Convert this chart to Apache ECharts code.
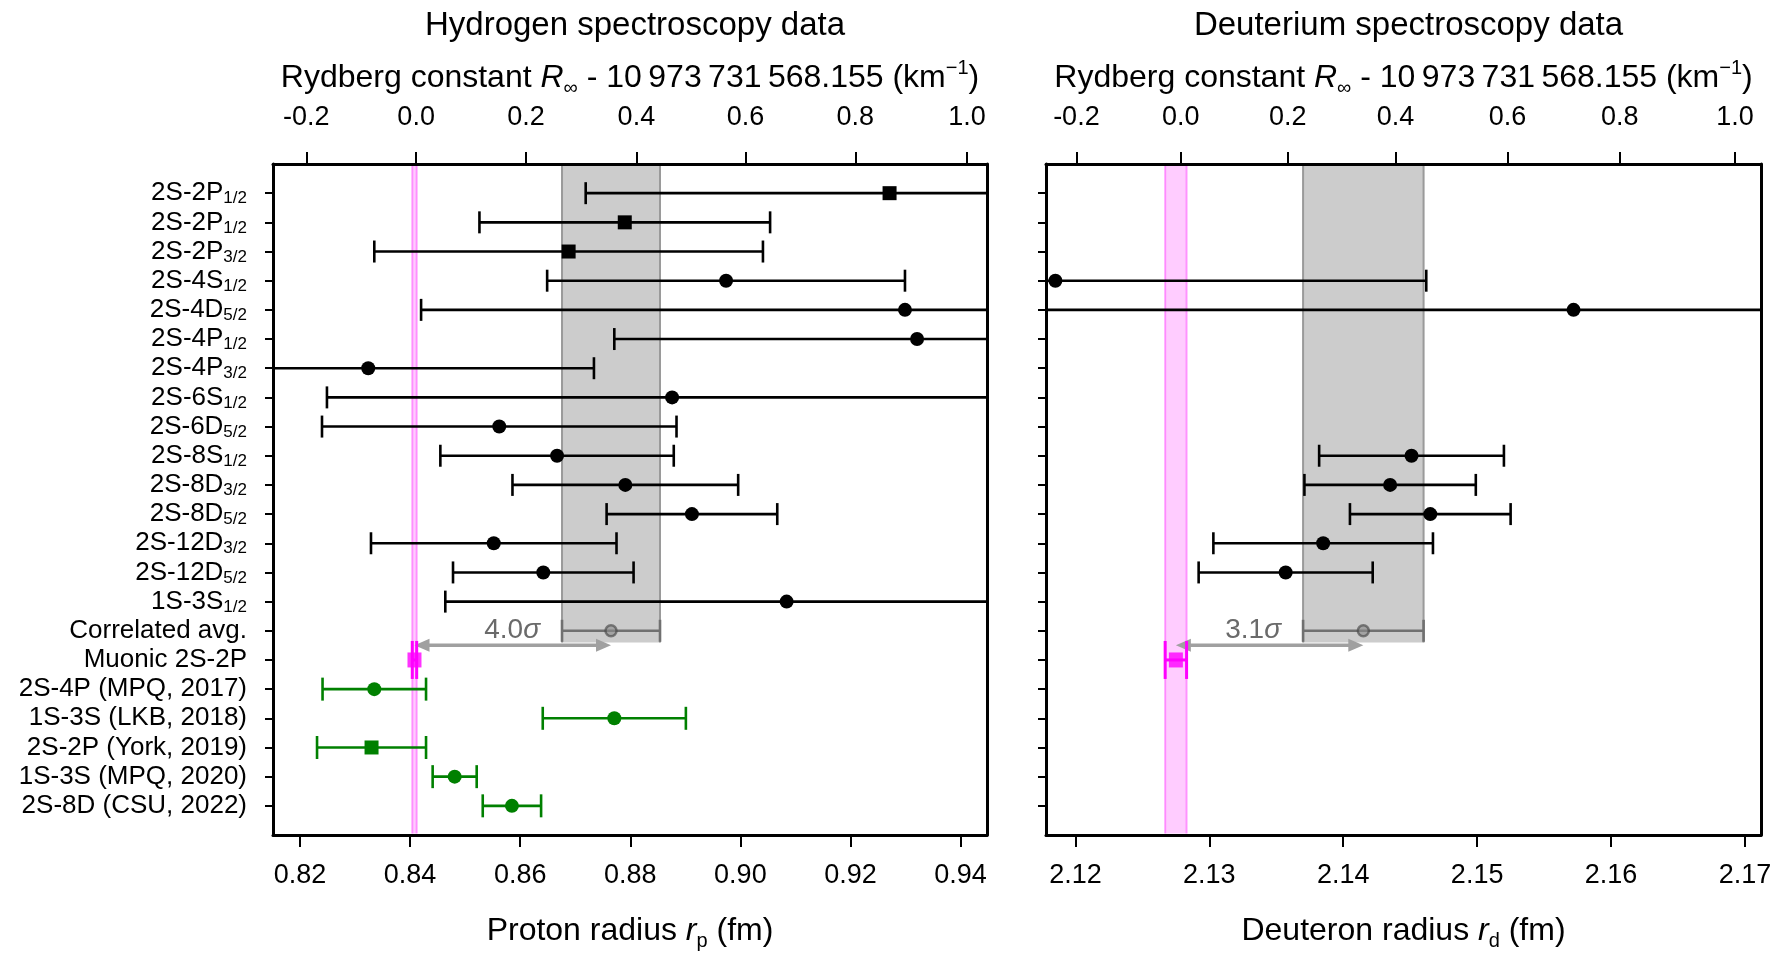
<!DOCTYPE html>
<html>
<head>
<meta charset="utf-8">
<script src="https://cdn.jsdelivr.net/npm/echarts@6/dist/echarts.min.js"></script>
<style>
  html, body { margin: 0; padding: 0; background: #fff; }
  #chart { width: 1779px; height: 956px; }
</style>
</head>
<body>
<div id="chart"></div>
<script>
// ---- Row labels (shared by both panels); "_" marks the start of a subscript ----
const transitionLabels = ['2S-2P_1/2', '2S-2P_1/2', '2S-2P_3/2', '2S-4S_1/2', '2S-4D_5/2', '2S-4P_1/2',
  '2S-4P_3/2', '2S-6S_1/2', '2S-6D_5/2', '2S-8S_1/2', '2S-8D_3/2', '2S-8D_5/2', '2S-12D_3/2',
  '2S-12D_5/2', '1S-3S_1/2'];
const summaryLabels = ['Correlated avg.', 'Muonic 2S-2P'];
const recentLabels = ['2S-4P (MPQ, 2017)', '1S-3S (LKB, 2018)', '2S-2P (York, 2019)',
  '1S-3S (MPQ, 2020)', '2S-8D (CSU, 2022)'];

// ---- Hydrogen: radius and 1-sigma uncertainty per transition (fm) ----
const transitionSymbols = ['rect', 'rect', 'rect', 'circle', 'circle', 'circle', 'circle', 'circle',
  'circle', 'circle', 'circle', 'circle', 'circle', 'circle', 'circle'];
const hydrogenRadius = [0.9271, 0.8790, 0.8688, 0.8974, 0.9299, 0.9321, 0.8324, 0.8876, 0.8562,
  0.8667, 0.8791, 0.8912, 0.8552, 0.8642, 0.9084];
const hydrogenSigma = [0.0552, 0.0264, 0.0353, 0.0325, 0.0879, 0.0550, 0.0410, 0.0627, 0.0322,
  0.0212, 0.0205, 0.0155, 0.0223, 0.0164, 0.0620];

// ---- Deuterium: same rows, only some transitions measured ----
const deuteriumRadius = [null, null, null, 2.1185, 2.1572, null, null, null, null,
  2.1451, 2.1435, 2.1465, 2.1385, 2.1357, null];
const deuteriumSigma = [null, null, null, 0.0277, 0.0600, null, null, null, null,
  0.0069, 0.0064, 0.0060, 0.0082, 0.0065, null];

// ---- Averages and muonic values: [radius, sigma] ----
const hydrogenAverage = [0.8765, 0.0089];
const deuteriumAverage = [2.1415, 0.0045];
const muonicHydrogen = [0.8408, 0.0004];
const muonicDeuterium = [2.1275, 0.0008];
const averageTension = ['4.0', '3.1'];   // discrepancy in units of sigma

// ---- Recent hydrogen measurements ----
const recentRadius = [0.8335, 0.8771, 0.8330, 0.8481, 0.8585];
const recentSigma = [0.0094, 0.0130, 0.0099, 0.0040, 0.0053];
const recentSymbols = ['circle', 'circle', 'rect', 'circle', 'circle'];

// ---- Tick labels ----
const protonTicks = [0.82, 0.84, 0.86, 0.88, 0.90, 0.92, 0.94];
const deuteronTicks = [2.12, 2.13, 2.14, 2.15, 2.16, 2.17];
const rydbergTicks = [-0.2, 0.0, 0.2, 0.4, 0.6, 0.8, 1.0];
// radius at which each Rydberg-constant tick falls
const protonAtRydbergTick = [0.82116, 0.84110, 0.86104, 0.88111, 0.90092, 0.92088, 0.94116];
const deuteronAtRydbergTick = [2.12007, 2.12787, 2.13585, 2.14391, 2.15226, 2.16065, 2.16926];

// ---------------------------------------------------------------------------
const FONT = 'Liberation Sans';
const GRID_TOP = 164, GRID_HEIGHT = 678;
const ROW_MIN = -1, ROW_MAX = 22;
const AVG_ROW = transitionLabels.length;        // 15
const MUON_ROW = AVG_ROW + 1;                    // 16
const RECENT_ROW0 = MUON_ROW + 1;                // 17
const rowCount = RECENT_ROW0 + recentLabels.length;
const rowTicks = Array.from({ length: rowCount }, (_, i) => i);

const GREEN = '#008000', MAGENTA = '#ff00ff', AVG_GRAY = '#707070';

const panels = [
  { title: 'Hydrogen spectroscopy data', left: 273, width: 714, min: 0.8151, max: 0.9448,
    ticks: protonTicks, topTicks: protonAtRydbergTick, sym: 'p', what: 'Proton',
    avg: hydrogenAverage, muon: muonicHydrogen, tension: averageTension[0] },
  { title: 'Deuterium spectroscopy data', left: 1046, width: 715, min: 2.1178, max: 2.1712,
    ticks: deuteronTicks, topTicks: deuteronAtRydbergTick, sym: 'd', what: 'Deuteron',
    avg: deuteriumAverage, muon: muonicDeuterium, tension: averageTension[1] }
];

const labelRich = {
  m: { fontFamily: FONT, fontSize: 26, color: '#000', lineHeight: 28, verticalAlign: 'middle' },
  s: { fontFamily: FONT, fontSize: 17, color: '#000', lineHeight: 12, verticalAlign: 'bottom' }
};
const nameRich = {
  t: { fontFamily: FONT, fontSize: 32, color: '#000', lineHeight: 40, verticalAlign: 'middle' },
  i: { fontFamily: FONT, fontSize: 32, color: '#000', fontStyle: 'italic', lineHeight: 40, verticalAlign: 'middle' },
  sub: { fontFamily: FONT, fontSize: 20, color: '#000', lineHeight: 13, verticalAlign: 'bottom' },
  sup: { fontFamily: FONT, fontSize: 20, color: '#000', lineHeight: 13, verticalAlign: 'top' }
};

function rowLabel(i) {
  if (i < transitionLabels.length) {
    const [main, sub] = transitionLabels[i].split('_');
    return '{m|' + main + '}{s|' + sub + '}';
  }
  if (i < RECENT_ROW0) return '{m|' + summaryLabels[i - AVG_ROW] + '}';
  return '{m|' + recentLabels[i - RECENT_ROW0] + '}';
}

function nearestIndex(arr, v) {
  let best = 0;
  arr.forEach((a, k) => { if (Math.abs(a - v) < Math.abs(arr[best] - v)) best = k; });
  return best;
}

// Horizontal error bar with end caps; ends outside the plot run to the frame with no cap
function errorBarRenderer(color, width, capHalf) {
  return function (params, api) {
    const x = api.value(0), row = api.value(1), s = api.value(2);
    const cs = params.coordSys;
    const a = api.coord([x - s, row]);
    const b = api.coord([x + s, row]);
    const x0 = cs.x, x1 = cs.x + cs.width;
    const y = a[1];
    const st = { stroke: color, lineWidth: width, fill: null };
    const children = [{
      type: 'line',
      shape: { x1: Math.max(a[0], x0), y1: y, x2: Math.min(b[0], x1), y2: y },
      style: st
    }];
    if (a[0] >= x0) children.push({ type: 'line', shape: { x1: a[0], y1: y - capHalf, x2: a[0], y2: y + capHalf }, style: st });
    if (b[0] <= x1) children.push({ type: 'line', shape: { x1: b[0], y1: y - capHalf, x2: b[0], y2: y + capHalf }, style: st });
    return { type: 'group', children };
  };
}

// Vertical band between two radii, with darker edges
function bandRenderer(fill, edge) {
  return function (params, api) {
    const p0 = api.coord([api.value(0), api.value(1)]);
    const p1 = api.coord([api.value(2), api.value(3)]);
    const top = Math.max(p0[1], params.coordSys.y + 1.5);
    const bottom = Math.min(p1[1], params.coordSys.y + params.coordSys.height - 1.5);
    return {
      type: 'group',
      children: [
        { type: 'rect', shape: { x: p0[0], y: top, width: p1[0] - p0[0], height: bottom - top },
          style: { fill: fill } },
        { type: 'line', shape: { x1: p0[0], y1: top, x2: p0[0], y2: bottom }, style: { stroke: edge, lineWidth: 2 } },
        { type: 'line', shape: { x1: p1[0], y1: top, x2: p1[0], y2: bottom }, style: { stroke: edge, lineWidth: 2 } }
      ]
    };
  };
}

// Double-headed arrow from the muonic value to the average, with the tension label
const arrowLabels = {};
function arrowRenderer(params, api) {
  const from = api.value(0), row = api.value(1), to = api.value(2);
  const labelAt = api.value(3);
  const a = api.coord([from, row]);
  const b = api.coord([to, row]);
  const y = a[1];
  const head = 15, half = 6.5;
  const color = '#a0a0a0';
  const lab = api.coord([labelAt, row - 0.5]);
  return {
    type: 'group',
    children: [
      { type: 'line', shape: { x1: a[0] + head - 2, y1: y, x2: b[0] - head + 2, y2: y },
        style: { stroke: color, lineWidth: 3.5 } },
      { type: 'polygon', shape: { points: [[a[0], y], [a[0] + head, y - half], [a[0] + head, y + half]] },
        style: { fill: color } },
      { type: 'polygon', shape: { points: [[b[0], y], [b[0] - head, y - half], [b[0] - head, y + half]] },
        style: { fill: color } },
      { type: 'text', x: lab[0] - 22, y: lab[1] - 1,
        style: {
          text: arrowLabels[params.seriesIndex], align: 'right', verticalAlign: 'middle',
          rich: {
            n: { fontFamily: FONT, fontSize: 28, fill: '#6a6a6a' },
            g: { fontFamily: FONT, fontSize: 28, fill: '#6a6a6a', fontStyle: 'italic' }
          }
        } }
    ]
  };
}

const xAxes = [], yAxes = [], grids = [], titles = [], series = [];

panels.forEach((p, g) => {
  grids.push({ left: p.left, top: GRID_TOP, width: p.width, height: GRID_HEIGHT, containLabel: false });
  titles.push({
    text: p.title, left: p.left + p.width / 2, top: 4, textAlign: 'center',
    textStyle: { fontFamily: FONT, fontSize: 33, fontWeight: 'normal', color: '#000' }
  });

  // bottom: radius axis
  xAxes.push({
    gridIndex: g, type: 'value', position: 'bottom', min: p.min, max: p.max, z: 10,
    axisLine: { show: true, onZero: false, lineStyle: { color: '#000', width: 3 } },
    axisTick: { show: true, customValues: p.ticks, length: 12, lineStyle: { color: '#000', width: 2 } },
    axisLabel: { customValues: p.ticks, formatter: v => v.toFixed(2), margin: 27,
      showMinLabel: true, showMaxLabel: true, fontFamily: FONT, fontSize: 27, color: '#000' },
    splitLine: { show: false },
    name: '{t|' + p.what + ' radius }{i|r}{sub|' + p.sym + '}{t| (fm)}',
    nameLocation: 'middle', nameGap: 76, nameTextStyle: { rich: nameRich }
  });
  // top: Rydberg-constant axis placed at the matching radii
  xAxes.push({
    gridIndex: g, type: 'value', position: 'top', min: p.min, max: p.max, z: 10,
    axisLine: { show: true, onZero: false, lineStyle: { color: '#000', width: 3 } },
    axisTick: { show: true, customValues: p.topTicks, length: 12, lineStyle: { color: '#000', width: 2 } },
    axisLabel: { customValues: p.topTicks,
      formatter: v => rydbergTicks[nearestIndex(p.topTicks, v)].toFixed(1),
      showMinLabel: true, showMaxLabel: true,
      margin: 33, fontFamily: FONT, fontSize: 27, color: '#000' },
    splitLine: { show: false },
    name: '{t|Rydberg constant }{i|R}{sub|\u221E}{t| - 10\u2009973\u2009731\u2009568.155 (km}{sup|\u22121}{t|)}',
    nameLocation: 'middle', nameGap: 66, nameTextStyle: { rich: nameRich }
  });

  // left: measurement rows
  yAxes.push({
    gridIndex: g, type: 'value', inverse: true, min: ROW_MIN, max: ROW_MAX, z: 10,
    axisLine: { show: true, onZero: false, lineStyle: { color: '#000', width: 3 } },
    axisTick: { show: true, customValues: rowTicks, length: 8, lineStyle: { color: '#000', width: 2 } },
    axisLabel: g === 0
      ? { show: true, customValues: rowTicks, formatter: v => rowLabel(Math.round(v)),
          showMinLabel: true, showMaxLabel: true, hideOverlap: false, margin: 26, rich: labelRich }
      : { show: false },
    splitLine: { show: false }
  });
  // right: frame edge only
  yAxes.push({
    gridIndex: g, type: 'value', position: 'right', inverse: true, min: ROW_MIN, max: ROW_MAX, z: 10,
    axisLine: { show: true, onZero: false, lineStyle: { color: '#000', width: 3 } },
    axisTick: { show: false }, axisLabel: { show: false }, splitLine: { show: false }
  });
});

function addPanelSeries(g, rows, symbols, color, capHalf) {
  const xIdx = g * 2, yIdx = g * 2;
  series.push({
    type: 'custom', xAxisIndex: xIdx, yAxisIndex: yIdx, z: 4, silent: true,
    encode: { x: 0, y: 1 }, renderItem: errorBarRenderer(color, 2.6, capHalf),
    data: rows.map(r => [r.x, r.row, r.s])
  });
  series.push({
    type: 'scatter', xAxisIndex: xIdx, yAxisIndex: yIdx, z: 5, silent: true,
    symbolSize: 14, itemStyle: { color: color, opacity: 1 },
    data: rows.map((r, k) => ({ value: [r.x, r.row], symbol: symbols[k] }))
  });
}

panels.forEach((p, g) => {
  const xIdx = g * 2, yIdx = g * 2;

  // bands: muonic value across the full height, average down to its own row
  series.push({
    type: 'custom', xAxisIndex: xIdx, yAxisIndex: yIdx, z: 1, silent: true,
    encode: { x: [0, 2], y: [1, 3] },
    renderItem: bandRenderer('#ffccff', 'rgba(255,0,255,0.35)'),
    data: [[p.muon[0] - p.muon[1], ROW_MIN, p.muon[0] + p.muon[1], ROW_MAX]]
  });
  series.push({
    type: 'custom', xAxisIndex: xIdx, yAxisIndex: yIdx, z: 1, silent: true,
    encode: { x: [0, 2], y: [1, 3] },
    renderItem: bandRenderer('#cccccc', '#9a9a9a'),
    data: [[p.avg[0] - p.avg[1], ROW_MIN, p.avg[0] + p.avg[1], AVG_ROW + 0.4]]
  });

  // arrow between muonic value and average
  arrowLabels[series.length] = '{n|' + p.tension + '}{g|\u03C3}';
  series.push({
    type: 'custom', xAxisIndex: xIdx, yAxisIndex: yIdx, z: 3, silent: true,
    encode: { x: [0, 2], y: 1 },
    renderItem: arrowRenderer,
    data: [[p.muon[0], AVG_ROW + 0.5, p.avg[0], p.avg[0] - p.avg[1]]]
  });

  // transitions
  const radius = g === 0 ? hydrogenRadius : deuteriumRadius;
  const sigma = g === 0 ? hydrogenSigma : deuteriumSigma;
  const rows = [], syms = [];
  radius.forEach((x, i) => {
    if (x !== null) { rows.push({ x: x, row: i, s: sigma[i] }); syms.push(g === 0 ? transitionSymbols[i] : 'circle'); }
  });
  addPanelSeries(g, rows, syms, '#000', 11);

  // correlated average
  series.push({
    type: 'custom', xAxisIndex: xIdx, yAxisIndex: yIdx, z: 4, silent: true,
    encode: { x: 0, y: 1 }, renderItem: errorBarRenderer(AVG_GRAY, 2.6, 11),
    data: [[p.avg[0], AVG_ROW, p.avg[1]]]
  });
  series.push({
    type: 'scatter', xAxisIndex: xIdx, yAxisIndex: yIdx, z: 5, silent: true,
    symbol: 'circle', symbolSize: 11,
    itemStyle: { color: 'rgba(140,140,140,0.8)', borderColor: 'rgba(70,70,70,0.8)', borderWidth: 2.5 },
    data: [[p.avg[0], AVG_ROW]]
  });

  // muonic value
  series.push({
    type: 'custom', xAxisIndex: xIdx, yAxisIndex: yIdx, z: 4, silent: true,
    encode: { x: 0, y: 1 }, renderItem: errorBarRenderer(MAGENTA, 3, 19),
    data: [[p.muon[0], MUON_ROW, p.muon[1]]]
  });
  series.push({
    type: 'scatter', xAxisIndex: xIdx, yAxisIndex: yIdx, z: 5, silent: true,
    symbol: 'rect', symbolSize: [14, 15], itemStyle: { color: MAGENTA },
    data: [[p.muon[0], MUON_ROW]]
  });
});

// recent hydrogen results
addPanelSeries(0, recentRadius.map((x, k) => ({ x: x, row: RECENT_ROW0 + k, s: recentSigma[k] })),
  recentSymbols, GREEN, 11.5);

const chart = echarts.init(document.getElementById('chart'), null, { renderer: 'canvas' });
chart.setOption({
  animation: false,
  backgroundColor: '#fff',
  title: titles,
  grid: grids,
  xAxis: xAxes,
  yAxis: yAxes,
  series: series
});
</script>
</body>
</html>
